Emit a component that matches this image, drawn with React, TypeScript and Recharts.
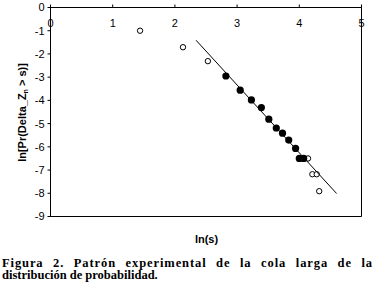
import { ScatterChart, Scatter, XAxis, YAxis, ReferenceArea, Label } from 'recharts';

// ln(s) vs ln(Pr(Delta_Zn > s))
const openX = [1.44, 2.13, 2.53, 4.14, 4.21, 4.28, 4.32];
const openY = [-1.0, -1.71, -2.31, -6.5, -7.18, -7.18, -7.91];
const fillX = [2.82, 3.05, 3.23, 3.39, 3.51, 3.63, 3.73, 3.83, 3.94, 4.0, 4.07];
const fillY = [-2.95, -3.56, -3.98, -4.31, -4.81, -5.19, -5.41, -5.71, -6.07, -6.5, -6.5];
// fitted tail line, end points
const fitX = [2.34, 4.6];
const fitY = [-1.41, -8.01];

const xTicks = [0, 1, 2, 3, 4, 5];
const yTicks = [0, -1, -2, -3, -4, -5, -6, -7, -8, -9];

const zip = (xs: number[], ys: number[]) => xs.map((x, i) => ({ x, y: ys[i] }));
const openPts = zip(openX, openY);
const fillPts = zip(fillX, fillY);
const fitPts = zip(fitX, fitY);

const AXIS_FONT = 'Arial, "Liberation Sans", sans-serif';
const CAPTION_FONT = '"Liberation Serif", "Times New Roman", serif';

function TopTick(props: any) {
  const { x, payload } = props;
  return (
    <text x={x} y={27} textAnchor="middle" fontSize={11} fontFamily={AXIS_FONT} fill="#000">
      {payload.value}
    </text>
  );
}

export default function App() {
  return (
    <div style={{ position: 'absolute', left: 0, top: 0, width: 375, height: 294, background: '#fff' }}>
      <ScatterChart width={375} height={250} margin={{ top: 6.5, right: 13.5, bottom: 33.5, left: 0.5 }}>
        <XAxis
          type="number"
          dataKey="x"
          orientation="top"
          height={1}
          domain={[0, 5]}
          ticks={xTicks}
          tickSize={3}
          tick={<TopTick />}
          axisLine={{ stroke: '#000' }}
          tickLine={{ stroke: '#000' }}
        >
          <Label
            content={() => (
              <text x={206.5} y={243} textAnchor="middle" fontSize={11} fontWeight="bold" fontFamily={AXIS_FONT} fill="#000">
                ln(s)
              </text>
            )}
          />
        </XAxis>
        <YAxis
          type="number"
          dataKey="y"
          width={50}
          domain={[-9, 0]}
          ticks={yTicks}
          tickSize={3}
          tickMargin={3}
          tick={{ fontSize: 11, fill: '#000', fontFamily: AXIS_FONT }}
          axisLine={{ stroke: '#000' }}
          tickLine={{ stroke: '#000' }}
        >
          <Label
            content={() => (
              <text
                transform="translate(26,112.5) rotate(-90)"
                textAnchor="middle"
                fontSize={11}
                fontWeight="bold"
                fontFamily={AXIS_FONT}
                fill="#000"
              >
                ln[Pr(Delta_Z<tspan fontSize={7} dy={2}>n</tspan>
                <tspan dy={-2}> &gt; s)]</tspan>
              </text>
            )}
          />
        </YAxis>
        <ReferenceArea x1={0} x2={5} y1={-9} y2={0} fill="none" stroke="#000" strokeWidth={1} />
        <Scatter
          data={openPts}
          isAnimationActive={false}
          shape={(p: any) => <circle cx={p.cx} cy={p.cy} r={2.7} fill="#fff" stroke="#000" strokeWidth={1} />}
        />
        <Scatter
          data={fillPts}
          isAnimationActive={false}
          shape={(p: any) => <circle cx={p.cx} cy={p.cy} r={3.6} fill="#000" />}
        />
        <Scatter
          data={fitPts}
          isAnimationActive={false}
          line={{ stroke: '#000', strokeWidth: 1 }}
          shape={() => <g />}
        />
      </ScatterChart>
      <div
        style={{
          position: 'absolute',
          left: 2,
          top: 256.8,
          width: 371,
          fontFamily: CAPTION_FONT,
          fontWeight: 'bold',
          fontSize: 12.5,
          lineHeight: '12.5px',
          color: '#000',
        }}
      >
        <div style={{ textAlign: 'justify', textAlignLast: 'justify', letterSpacing: 0.9, whiteSpace: 'nowrap' }}>
          Figura 2. Patrón experimental de la cola larga de la
        </div>
        <div>distribución de probabilidad.</div>
      </div>
    </div>
  );
}
